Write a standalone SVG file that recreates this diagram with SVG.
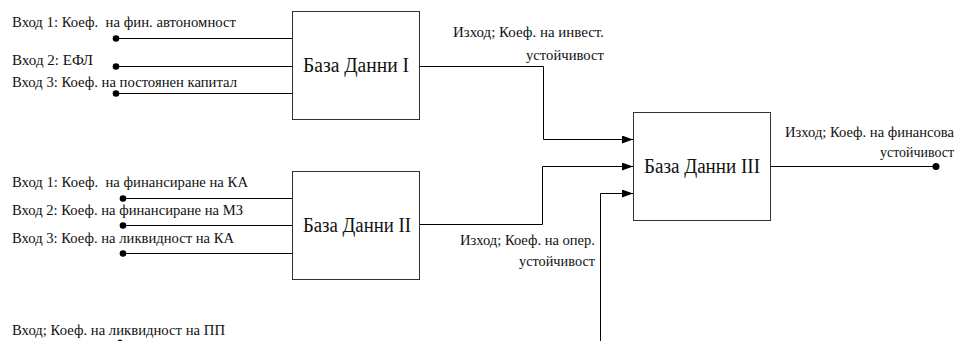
<svg xmlns="http://www.w3.org/2000/svg" width="958" height="341" viewBox="0 0 958 341" font-family="'Liberation Serif', 'Times New Roman', serif">
  <defs>
    <style>
      .lbl { font-size: 14px; fill: #111; white-space: pre; }
      .box-title { font-size: 20px; fill: #111; }
      .box { fill: #fff; stroke: #333; stroke-width: 1; }
      .wire { fill: none; stroke: #000; stroke-width: 1; }
      .dot { fill: #000; }
    </style>
    <marker id="arrow" markerWidth="11" markerHeight="8" refX="11" refY="4" orient="auto" markerUnits="userSpaceOnUse">
      <path d="M0,0 L11,4 L0,8 Z" fill="#000"/>
    </marker>
  </defs>

  <rect width="958" height="341" fill="#fff"/>

  <!-- Connectors -->
  <g id="connectors">
    <!-- inputs to database I -->
    <path class="wire" d="M116,38.5 H292"/>
    <path class="wire" d="M116,66.5 H292"/>
    <path class="wire" d="M116,93.5 H292"/>
    <circle class="dot" cx="116" cy="38.5" r="3.3"/>
    <circle class="dot" cx="116" cy="66.5" r="3.3"/>
    <circle class="dot" cx="116" cy="93.5" r="3.3"/>

    <!-- inputs to database II -->
    <path class="wire" d="M123,198.5 H292"/>
    <path class="wire" d="M123,225.5 H292"/>
    <path class="wire" d="M123,253.5 H292"/>
    <circle class="dot" cx="123" cy="198.5" r="3.3"/>
    <circle class="dot" cx="123" cy="225.5" r="3.3"/>
    <circle class="dot" cx="123" cy="253.5" r="3.3"/>

    <!-- outputs of I and II, plus the extra input, into III -->
    <path class="wire" d="M419,66.5 H543.5 V139.5 H633" marker-end="url(#arrow)"/>
    <path class="wire" d="M419,224.5 H542.5 V166.5 H633" marker-end="url(#arrow)"/>
    <path class="wire" d="M600.5,341 V193.5 H633" marker-end="url(#arrow)"/>

    <!-- output of III -->
    <path class="wire" d="M770,166.5 H936"/>
    <circle class="dot" cx="936" cy="166.5" r="3.5"/>

    <!-- bottom input marker -->
    <circle class="dot" cx="120" cy="342" r="2.5"/>
  </g>

  <!-- Database I -->
  <g id="db1">
    <rect class="box" x="292.5" y="11.5" width="127" height="108"/>
    <text class="box-title" x="303" y="72" textLength="106" lengthAdjust="spacingAndGlyphs">База Данни I</text>
  </g>

  <!-- Database II -->
  <g id="db2">
    <rect class="box" x="292.5" y="171.5" width="127" height="108"/>
    <text class="box-title" x="303" y="232" textLength="108" lengthAdjust="spacingAndGlyphs">База Данни II</text>
  </g>

  <!-- Database III -->
  <g id="db3">
    <rect class="box" x="633.5" y="112.5" width="137" height="108"/>
    <text class="box-title" x="644" y="173" textLength="116" lengthAdjust="spacingAndGlyphs">База Данни III</text>
  </g>

  <!-- Labels -->
  <g id="labels">
    <text class="lbl" x="12" y="27" textLength="224" lengthAdjust="spacingAndGlyphs">Вход 1: Коеф.  на фин. автономност</text>
    <text class="lbl" x="12" y="65" textLength="81" lengthAdjust="spacingAndGlyphs">Вход 2: ЕФЛ</text>
    <text class="lbl" x="12" y="87" textLength="225" lengthAdjust="spacingAndGlyphs">Вход 3: Коеф. на постоянен капитал</text>

    <text class="lbl" x="453" y="37" textLength="151" lengthAdjust="spacingAndGlyphs">Изход; Коеф. на инвест.</text>
    <text class="lbl" x="526" y="60" textLength="78" lengthAdjust="spacingAndGlyphs">устойчивост</text>

    <text class="lbl" x="12" y="187" textLength="236" lengthAdjust="spacingAndGlyphs">Вход 1: Коеф.  на финансиране на КА</text>
    <text class="lbl" x="12" y="215" textLength="231" lengthAdjust="spacingAndGlyphs">Вход 2: Коеф. на финансиране на МЗ</text>
    <text class="lbl" x="12" y="243" textLength="222" lengthAdjust="spacingAndGlyphs">Вход 3: Коеф. на ликвидност на КА</text>

    <text class="lbl" x="460" y="245" textLength="135" lengthAdjust="spacingAndGlyphs">Изход; Коеф. на опер.</text>
    <text class="lbl" x="519" y="266" textLength="76" lengthAdjust="spacingAndGlyphs">устойчивост</text>

    <text class="lbl" x="785" y="137" textLength="169" lengthAdjust="spacingAndGlyphs">Изход; Коеф. на финансова</text>
    <text class="lbl" x="880" y="157" textLength="74" lengthAdjust="spacingAndGlyphs">устойчивост</text>

    <text class="lbl" x="12" y="335" textLength="213" lengthAdjust="spacingAndGlyphs">Вход; Коеф. на ликвидност на ПП</text>
  </g>
</svg>
